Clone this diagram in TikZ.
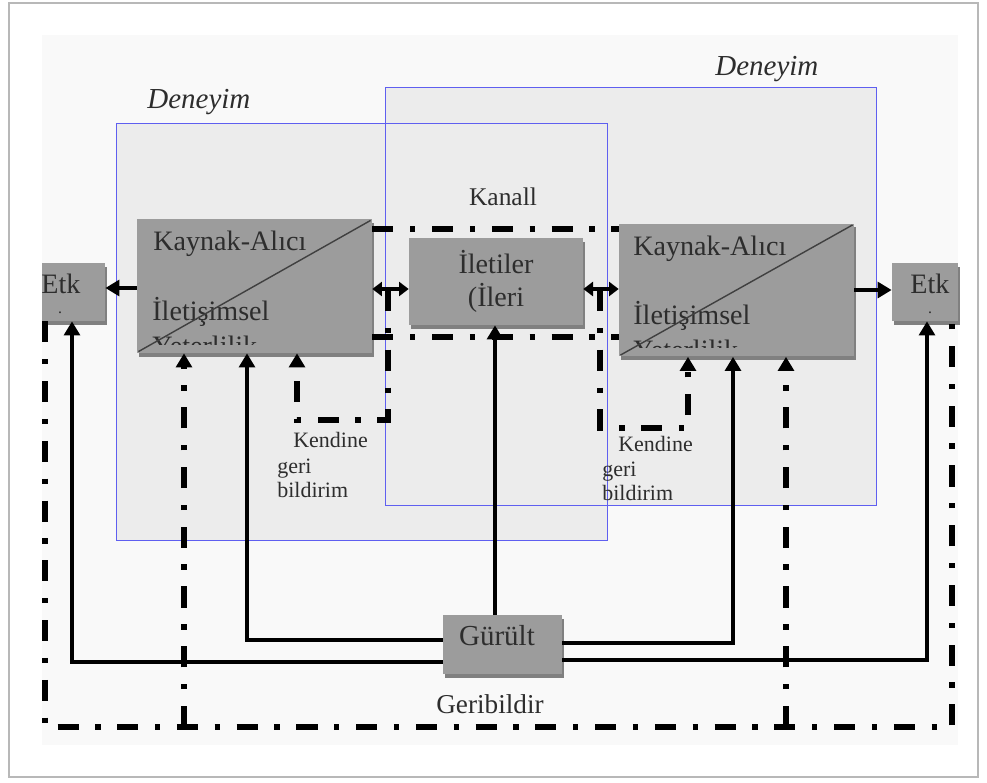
\documentclass[tikz,border=0pt]{standalone}
\usepackage{fontspec}
\setmainfont{Liberation Serif}
\usetikzlibrary{arrows.meta,shadows}

\definecolor{frameblue}{RGB}{95,95,240}
\definecolor{panelgray}{RGB}{236,236,236}
\definecolor{boxgray}{RGB}{156,156,156}
\definecolor{inkgray}{RGB}{45,45,45}

\begin{document}
\begin{tikzpicture}[x=0.02cm, y=-0.02cm,
    box/.style={fill=boxgray, inner sep=0pt, drop shadow={shadow xshift=1.2pt, shadow yshift=-2pt, fill=black!50, opacity=1}},
    panel/.style={fill=panelgray, inner sep=0pt, minimum width=9.8cm},
    txt/.style={text=inkgray, font=\fontsize{16}{19}\selectfont, inner sep=0pt},
    small/.style={text=inkgray, font=\fontsize{12.5}{14}\selectfont, inner sep=0pt, anchor=base west},
    dotmark/.style={text=inkgray, font=\fontsize{9}{10}\selectfont, inner sep=0pt, anchor=base},
    flow/.style={line width=2.8pt, -{Triangle[width=9pt,length=8pt]}},
    twoway/.style={line width=2.8pt, {Triangle[width=8pt,length=5.5pt]}-{Triangle[width=8pt,length=5.5pt]}},
    fb/.style={line width=2.9pt, dash pattern=on 12pt off 9.5pt on 3pt off 9.5pt},
    fbarrow/.style={fb, -{Triangle[width=9pt,length=8pt]}}]
    \useasboundingbox (0,0) rectangle (987,782);
    % page frame
    \draw[black!28, line width=1pt] (9,3) rectangle (978,777);
    \fill[black!2.5] (42,35) rectangle (958,745);
    % Deneyim panels
    \node[panel, minimum height=8.32cm] (expL) at (362,332) {};
    \node[panel, minimum height=8.34cm] (expR) at (631,296.5) {};
    \draw[frameblue, line width=0.8pt] (expL.south west) rectangle (expL.north east);
    \draw[frameblue, line width=0.8pt] (expR.south west) rectangle (expR.north east);
    \node[txt, font=\itshape\fontsize{16.5}{19}\selectfont, anchor=base west] (expLlabel) at (147,108) {Deneyim};
    \node[txt, font=\itshape\fontsize{16.5}{19}\selectfont, anchor=base west] (expRlabel) at (715,75) {Deneyim};
    \node[txt, font=\fontsize{14.5}{17}\selectfont, anchor=base] (chan) at (503,205) {Kanall};
    % boxes
    \node[box, minimum width=4.7cm, minimum height=2.68cm] (kaL) at (254.5,286) {};
    \node[box, minimum width=4.7cm, minimum height=2.66cm] (kaR) at (736.5,290) {};
    \node[box, txt, align=center, minimum width=3.48cm, minimum height=1.74cm] (msg) at (496,281.5) {İletiler\\(İleri};
    \node[box, minimum width=1.26cm, minimum height=1.16cm] (etkL) at (73.5,292) {};
    \node[box, minimum width=1.32cm, minimum height=1.16cm] (etkR) at (925,292) {};
    \node[box, minimum width=2.38cm, minimum height=1.18cm] (gur) at (502.5,644.5) {};
    % box texts
    \node[txt, anchor=base west] (kaLa) at (153,250) {Kaynak-Alıcı};
    \node[txt, anchor=base west] (kaLb) at (152,320) {İletişimsel};
    \node[txt, anchor=base west] (kaRa) at (633,255) {Kaynak-Alıcı};
    \node[txt, anchor=base west] (kaRb) at (633,324) {İletişimsel};
    \begin{scope}
        \clip (137,219) rectangle (372,344);
        \node[txt, anchor=base west] (kaLc) at (152,355) {Yeterlilik};
    \end{scope}
    \begin{scope}
        \clip (619,223) rectangle (854,347);
        \node[txt, anchor=base west] (kaRc) at (633,359) {Yeterlilik};
    \end{scope}
    \draw[black!75, line width=0.8pt] ([shift={(1pt,1pt)}]kaL.south west) -- ([shift={(-1pt,-1pt)}]kaL.north east);
    \draw[black!75, line width=0.8pt] ([shift={(1pt,1pt)}]kaR.south west) -- ([shift={(-1pt,-1pt)}]kaR.north east);
    \node[txt, anchor=base] (etkLt) at (61,293) {Etk};
    \node[dotmark] (etkLd) at (60,313) {.};
    \node[txt, anchor=base] (etkRt) at (930,293) {Etk};
    \node[dotmark] (etkRd) at (930,313) {.};
    \node[txt, font=\fontsize{16.5}{19}\selectfont, anchor=base] (gurt) at (497,645) {Gürült};
    \node[txt, font=\fontsize{15.5}{18}\selectfont, anchor=base] (fbtext) at (490,713) {Geribildir};
    % self feedback labels
    \node[small] (selfLa) at (293,447) {Kendine};
    \node[small] (selfLb) at (277,473) {geri};
    \node[small] (selfLc) at (277,497) {bildirim};
    \node[small] (selfRa) at (618,451) {Kendine};
    \node[small] (selfRb) at (602,476) {geri};
    \node[small] (selfRc) at (602,500) {bildirim};
    % coordinates
    \coordinate (selfL) at (388,290);
    \coordinate (selfR) at (600,290);
    \coordinate (fbBL) at (45,727);
    \coordinate (fbBR) at (952,727);
    \coordinate (fbL) at (184,727);
    \coordinate (fbR) at (786,727);
    % arrows
    \draw[flow] (kaL.west |- 0,288) -- (etkL.east |- 0,288);
    \draw[flow] (kaR.east |- 0,290) -- (etkR.west |- 0,290);
    \draw[twoway] (kaL.east |- 0,289) -- (msg.west |- 0,289);
    \draw[twoway] (msg.east |- 0,289) -- (kaR.west |- 0,289);
    \draw[flow] (gur.north -| 495,0) -- (msg.south -| 495,0);
    \draw[flow] (gur.west |- 0,640) -| (kaL.south -| 247,0);
    \draw[flow] (gur.west |- 0,662) -| (etkL.south -| 72,0);
    \draw[flow] (gur.east |- 0,643) -| (kaR.south -| 733,0);
    \draw[flow] (gur.east |- 0,660) -| (etkR.south -| 927,0);
    % channel frame
    \draw[fb] (kaL.east |- 0,229) -- (kaR.west |- 0,229);
    \draw[fb] (kaL.east |- 0,337) -- (kaR.west |- 0,337);
    \draw[fbarrow] (selfL) -- (388,420) -- (297,420) -- (kaL.south -| 297,0);
    \draw[fbarrow] (selfR) -- (600,428) -- (688,428) -- (kaR.south -| 688,0);
    % feedback loop
    \draw[fb] (etkL.south -| fbBL) -- (fbBL) -- (fbBR) -- (etkR.south -| fbBR);
    \draw[fbarrow] (fbL) -- (kaL.south -| fbL);
    \draw[fbarrow] (fbR) -- (kaR.south -| fbR);
\end{tikzpicture}
\end{document}
